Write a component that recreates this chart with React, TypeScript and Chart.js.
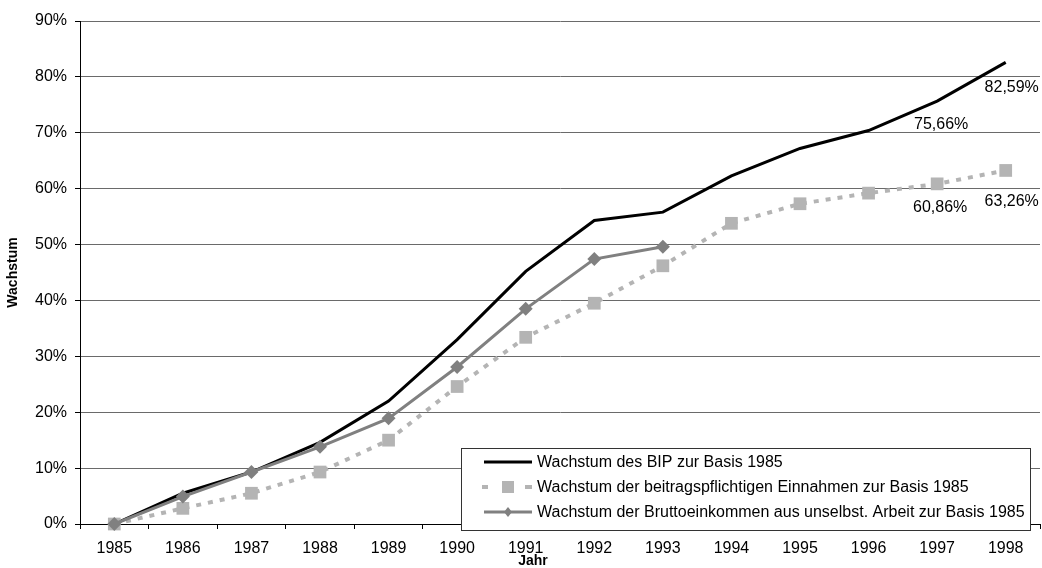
import React, { useEffect, useRef } from "react";
import { Chart, registerables } from "chart.js";

Chart.register(...registerables);

const years = ["1985", "1986", "1987", "1988", "1989", "1990", "1991", "1992", "1993", "1994", "1995", "1996", "1997", "1998"];
const bipGrowth = [0, 5.5, 9.3, 14.6, 22.0, 33.0, 45.2, 54.3, 55.8, 62.3, 67.2, 70.4, 75.66, 82.59];
const contribIncomeGrowth = [0, 2.8, 5.5, 9.3, 15.0, 24.6, 33.4, 39.5, 46.2, 53.8, 57.3, 59.2, 60.86, 63.26];
const grossIncomeGrowth: (number | null)[] = [0, 4.9, 9.3, 13.8, 18.9, 28.1, 38.5, 47.4, 49.6, null, null, null, null, null];
const seriesLabels = [
  "Wachstum des BIP zur Basis 1985",
  "Wachstum der beitragspflichtigen Einnahmen zur Basis 1985",
  "Wachstum der Bruttoeinkommen aus unselbst. Arbeit zur Basis 1985",
];
const yAxisTitle = "Wachstum";
const xAxisTitle = "Jahr";
// value labels: [datasetIndex, pointIndex]
const labelledPoints: [number, number][] = [
  [0, 12],
  [0, 13],
  [1, 12],
  [1, 13],
];

const FONT = "'Liberation Sans', Arial, sans-serif";
const fmt = (v: number) => v.toFixed(2).replace(".", ",") + "%";

const labelOffsets: Record<string, [number, number]> = {
  "0-12": [4, 23],
  "0-13": [6, 25],
  "1-12": [3, 24],
  "1-13": [6, 31],
};

const overlayPlugin = {
  id: "overlay",
  afterDraw(chart: any) {
    const ctx = chart.ctx as CanvasRenderingContext2D;
    ctx.save();
    // value labels
    ctx.font = `16px ${FONT}`;
    ctx.fillStyle = "#000";
    ctx.textAlign = "center";
    ctx.textBaseline = "middle";
    labelledPoints.forEach(([d, i]) => {
      const el = chart.getDatasetMeta(d).data[i];
      const v = chart.data.datasets[d].data[i];
      const off = labelOffsets[`${d}-${i}`] || [0, 24];
      ctx.fillText(fmt(v), el.x + off[0], el.y + off[1]);
    });

    // x axis title
    ctx.font = `bold 14px ${FONT}`;
    ctx.fillText(xAxisTitle, 533, 561);

    // legend
    const lx = 461.5, ly = 448.5, lw = 569, lh = 82;
    ctx.fillStyle = "#fff";
    ctx.fillRect(lx, ly, lw, lh);
    ctx.strokeStyle = "#333";
    ctx.lineWidth = 1;
    ctx.setLineDash([]);
    ctx.strokeRect(lx, ly, lw, lh);
    const rows = [462, 487, 512];
    const x0 = 484, x1 = 532;
    chart.data.datasets.forEach((ds: any, i: number) => {
      const y = rows[i];
      ctx.save();
      ctx.strokeStyle = ds.borderColor;
      ctx.lineWidth = ds.borderWidth;
      if (i === 1) {
        ctx.fillStyle = ds.borderColor;
        ctx.fillRect(482, y - 2, 6, 4);
        ctx.fillRect(525, y - 2, 7, 4);
        ctx.fillStyle = ds.pointBackgroundColor;
        ctx.fillRect(502, y - 6, 12, 12);
      } else {
        ctx.beginPath();
        ctx.moveTo(x0, y);
        ctx.lineTo(x1, y);
        ctx.stroke();
        if (i === 2) {
          ctx.fillStyle = ds.pointBackgroundColor;
          ctx.beginPath();
          ctx.moveTo(508, y - 5);
          ctx.lineTo(512, y);
          ctx.lineTo(508, y + 5);
          ctx.lineTo(504, y);
          ctx.closePath();
          ctx.fill();
        }
      }
      ctx.restore();
      ctx.fillStyle = "#000";
      ctx.font = `16px ${FONT}`;
      ctx.textAlign = "left";
      ctx.textBaseline = "middle";
      ctx.fillText(ds.label, 537, y + 1);
    });
    ctx.restore();
  },
};

export default function App() {
  const ref = useRef<HTMLCanvasElement | null>(null);
  useEffect(() => {
    if (!ref.current) return;
    const chart = new Chart(ref.current, {
      type: "line",
      data: {
        labels: years,
        datasets: [
          {
            label: seriesLabels[0],
            data: bipGrowth,
            borderColor: "#000000",
            borderWidth: 3,
            pointRadius: 0,
            tension: 0,
            clip: false,
            order: 3,
          },
          {
            label: seriesLabels[1],
            data: contribIncomeGrowth,
            borderColor: "#b4b4b4",
            backgroundColor: "#b4b4b4",
            pointBackgroundColor: "#b4b4b4",
            pointBorderWidth: 0,
            borderWidth: 4,
            borderDash: [5, 7],
            pointStyle: "rect",
            pointRadius: 9,
            tension: 0,
            clip: false,
            order: 2,
          },
          {
            label: seriesLabels[2],
            data: grossIncomeGrowth,
            borderColor: "#808080",
            backgroundColor: "#808080",
            pointBackgroundColor: "#808080",
            pointBorderWidth: 0,
            borderWidth: 3,
            pointStyle: "rectRot",
            pointRadius: 7,
            tension: 0,
            spanGaps: false,
            clip: false,
            order: 1,
          },
        ],
      },
      options: {
        animation: false,
        responsive: false,
        maintainAspectRatio: false,
        layout: { autoPadding: false, padding: { left: 0, right: 2, top: 21, bottom: 0 } },
        plugins: {
          legend: { display: false },
          tooltip: { enabled: false },
        },
        scales: {
          x: {
            type: "category",
            offset: true,
            grid: {
              offset: true,
              drawOnChartArea: false,
              drawTicks: true,
              tickLength: 5,
              color: "#000",
            },
            border: { color: "#000", width: 1 },
            ticks: {
              color: "#000",
              font: { family: FONT, size: 16 },
              padding: 10,
              maxRotation: 0,
              autoSkip: false,
            },
            afterFit: (s: any) => {
              s.height = 44;
            },
          },
          y: {
            min: 0,
            max: 90,
            ticks: {
              stepSize: 10,
              color: "#000",
              font: { family: FONT, size: 16 },
              padding: 8,
              callback: (v: any) => `${v}%`,
            },
            grid: {
              color: "#6a6a6a",
              tickColor: "#000",
              tickLength: 5,
              lineWidth: 1,
            },
            border: { color: "#000", width: 1 },
            title: {
              display: true,
              text: yAxisTitle,
              color: "#000",
              font: { family: FONT, size: 14, weight: "bold" },
              padding: { top: 5, bottom: 0 },
            },
            afterFit: (s: any) => {
              s.width = 80;
            },
          },
        },
      },
      plugins: [overlayPlugin],
    });
    return () => chart.destroy();
  }, []);
  return (
    <div style={{ position: "fixed", left: 0, top: 0, width: 1042, height: 568, background: "#fff" }}>
      <canvas ref={ref} width={1042} height={568} style={{ width: 1042, height: 568, display: "block" }} />
    </div>
  );
}
